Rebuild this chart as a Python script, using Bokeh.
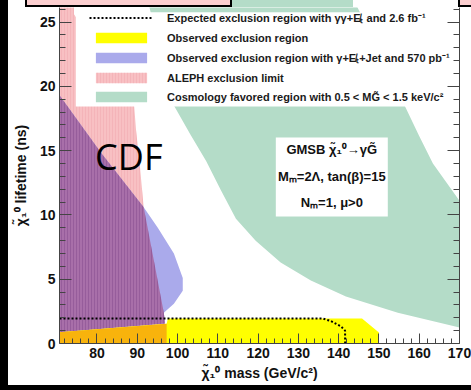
from bokeh.plotting import figure
from bokeh.models import (Range1d, LinearAxis, FixedTicker, Legend, LegendItem,
                          BoxAnnotation, Label, Div)
from bokeh.layouts import row, column
from bokeh.embed import file_html
from bokeh.resources import INLINE

# ---------------- data ----------------
X_RANGE = (70.7, 170.0)
Y_RANGE = (0.0, 26.13)
x_major_ticks = [80, 90, 100, 110, 120, 130, 140, 150, 160, 170]
x_minor_ticks = [72, 74, 76, 78, 82, 84, 86, 88, 92, 94, 96, 98, 102, 104, 106, 108,
                 112, 114, 116, 118, 122, 124, 126, 128, 132, 134, 136, 138, 142, 144,
                 146, 148, 152, 154, 156, 158, 162, 164, 166, 168]
y_major_ticks = [0, 5, 10, 15, 20, 25]
y_minor_ticks = [1, 2, 3, 4, 6, 7, 8, 9, 11, 12, 13, 14, 16, 17, 18, 19, 21, 22, 23, 24, 26]

# Cosmology favoured band (lower/left edge then upper/right edge)
cosmo_x = [92.6, 95.9, 99.1, 103.3, 107.1, 110.8, 114.5, 119.4, 125.6, 133.1, 141.8, 154.7,
           170.0, 170.0, 163.4, 159.9, 156.7, 150.5, 143.8]
cosmo_y = [26.7, 22.4, 18.5, 16.2, 14.2, 11.9, 9.7, 8.0, 6.3, 4.9, 3.65, 2.4,
           1.24, 11.1, 14.0, 16.2, 18.3, 22.4, 26.7]

# ALEPH exclusion limit
aleph_x = [70.7, 74.3, 74.3, 89.2, 89.7, 90.6, 91.6, 94.1, 96.6, 97.3, 70.7]
aleph_y = [26.7, 26.7, 25.6, 18.6, 16.6, 14.0, 10.6, 6.5, 2.4, 0.0, 0.0]

# gamma + MET + jet (570 pb-1) observed exclusion
jet_x = [70.7, 80.95, 91.6, 95.1, 99.1, 101.3, 101.3, 99.1, 96.6, 96.9, 70.7]
jet_y = [19.3, 14.85, 10.6, 9.0, 7.0, 5.1, 4.1, 3.1, 2.4, 1.55, 0.88]

# overlap of the jet exclusion and the ALEPH limit
overlap_x = [70.7, 80.95, 91.6, 94.1, 96.6, 96.9, 70.7]
overlap_y = [19.3, 14.85, 10.6, 6.5, 2.4, 1.55, 0.88]

# observed exclusion region (gamma gamma + MET, 2.6 fb-1)
observed_x = [70.7, 70.7, 97.3, 97.6, 145.8, 150.0, 150.0]
observed_y = [0.0, 0.88, 1.53, 1.95, 1.95, 0.86, 0.0]

# overlap of observed region and ALEPH limit
obs_overlap_x = [70.7, 70.7, 97.3, 97.3]
obs_overlap_y = [0.0, 0.88, 1.53, 0.0]

# expected exclusion contour
expected_x = [70.7, 136.0, 138.0, 140.5, 141.6, 141.6]
expected_y = [1.95, 1.95, 1.75, 1.35, 1.0, 0.0]

legend_labels = [
    "Expected exclusion region with \u03b3\u03b3+E\u0338\u209c and 2.6 fb\u207b\u00b9",
    "Observed exclusion region",
    "Observed exclusion region with \u03b3+E\u0338\u209c+Jet and 570 pb\u207b\u00b9",
    "ALEPH exclusion limit",
    "Cosmology favored region with 0.5 < MG\u0303 < 1.5 keV/c\u00b2",
]
info_lines = ["GMSB \u03c7\u0303\u2081\u2070\u2192\u03b3G\u0303",
              "M\u2098=2\u039b, tan(\u03b2)=15",
              "N\u2098=1, \u03bc>0"]

FONT = "Liberation Sans"

p = figure(width=463, height=378,
           x_range=Range1d(*X_RANGE), y_range=Range1d(*Y_RANGE),
           output_backend="svg", toolbar_location=None,
           min_border_left=51, min_border_right=12, min_border_top=0, min_border_bottom=42,
           background_fill_color="white", border_fill_color="white",
           outline_line_color=None, margin=0)
p.grid.visible = False

r_cosmo = p.patch(cosmo_x, cosmo_y, fill_color="#b4dcc8", line_color=None)
r_aleph = p.patch(aleph_x, aleph_y, fill_color="#f8c0c3", line_color=None,
                  hatch_pattern="vertical_line", hatch_color="#ee9fa6",
                  hatch_alpha=0.35, hatch_scale=3, hatch_weight=1)
r_jet = p.patch(jet_x, jet_y, fill_color="#aaaaeb", line_color=None)
p.patch(overlap_x, overlap_y, fill_color="#a86fa9", line_color=None,
        hatch_pattern="vertical_line", hatch_color="#80488a",
        hatch_alpha=0.45, hatch_scale=3, hatch_weight=1)
r_obs = p.patch(observed_x, observed_y, fill_color="#ffff00", line_color=None)
p.patch(obs_overlap_x, obs_overlap_y, fill_color="#f8b30c", line_color=None)
r_exp = p.line(expected_x, expected_y, line_color="black", line_width=2, line_dash="2 2")

# white box behind the legend
p.add_layout(BoxAnnotation(left=74.75, right=170.0, top=25.76, bottom=18.43,
                           fill_color="white", fill_alpha=1.0, line_alpha=0,
                           level="glyph"))
# white box behind the model text
p.add_layout(BoxAnnotation(left=124.4, right=152.2, top=16.02, bottom=9.88,
                           fill_color="white", fill_alpha=1.0, line_alpha=0,
                           level="glyph"))

legend = Legend(items=[LegendItem(label=legend_labels[0], renderers=[r_exp]),
                       LegendItem(label=legend_labels[1], renderers=[r_obs]),
                       LegendItem(label=legend_labels[2], renderers=[r_jet]),
                       LegendItem(label=legend_labels[3], renderers=[r_aleph]),
                       LegendItem(label=legend_labels[4], renderers=[r_cosmo])],
                location=(28, 238), padding=2, spacing=6, margin=0,
                glyph_width=64, glyph_height=13, label_height=13, label_width=10,
                label_standoff=14, label_text_font=FONT, label_text_font_style="bold",
                label_text_font_size="11px", label_text_color="#1a1a1a",
                background_fill_alpha=0, border_line_alpha=0)
p.add_layout(legend)

for yy, txt in zip([15.1, 12.95, 11.0], info_lines):
    p.add_layout(Label(x=138.3, y=yy, text=txt, text_align="center", text_baseline="middle",
                       text_font=FONT, text_font_style="bold", text_font_size="13px",
                       text_color="#111111"))

p.add_layout(Label(x=87.9, y=14.55, text="CDF", text_align="center", text_baseline="middle",
                   text_font="Open Sans", text_font_size="36px", text_color="black"))

def style_axis(ax, tick_in, minor_in):
    ax.axis_line_color = "#444444"
    ax.major_tick_line_color = "#444444"
    ax.minor_tick_line_color = "#444444"
    ax.major_tick_in = tick_in
    ax.major_tick_out = 0
    ax.minor_tick_in = minor_in
    ax.minor_tick_out = 0
    ax.major_label_text_font = FONT
    ax.major_label_text_font_style = "bold"
    ax.major_label_text_font_size = "14px"
    ax.major_label_text_color = "#111111"
    ax.axis_label_text_font = FONT
    ax.axis_label_text_font_style = "bold"
    ax.axis_label_text_font_size = "14px"
    ax.axis_label_text_color = "#111111"

xa = p.xaxis[0]
xa.ticker = FixedTicker(ticks=x_major_ticks, minor_ticks=x_minor_ticks)
style_axis(xa, 10, 5)
xa.major_label_standoff = 4
xa.axis_label = "\u03c7\u0303\u2081\u2070 mass (GeV/c\u00b2)"
xa.axis_label_standoff = 4

ya = p.yaxis[0]
ya.ticker = FixedTicker(ticks=y_major_ticks, minor_ticks=y_minor_ticks)
style_axis(ya, 12, 6)
ya.major_label_standoff = 4
ya.axis_label = "\u03c7\u0303\u2081\u2070 lifetime (ns)"
ya.axis_label_standoff = 8

ra = LinearAxis(ticker=FixedTicker(ticks=y_major_ticks, minor_ticks=y_minor_ticks))
style_axis(ra, 12, 6)
ra.major_label_text_font_size = "1px"
ra.major_label_text_color = None
ra.major_label_standoff = 0
p.add_layout(ra, "right")

# page furniture of the reference picture: black edges and the clipped pink boxes on top
BOX = "#fccfd0"
left_edge = Div(text="", width=8, height=385, margin=0, styles={"background-color": "black"})
bottom_edge = Div(text="", width=471, height=5, margin=0, styles={"background-color": "black"})
top_gap = Div(text="", width=17, height=7, margin=0, styles={"background-color": "white"})
top_box1 = Div(text="", width=207, height=7, margin=0,
               styles={"background-color": BOX, "border": "2px solid black",
                       "border-top": "none", "box-sizing": "border-box"})
top_mid = Div(text="", width=226, height=7, margin=0,
              styles={"background": "linear-gradient(to right, #b4dcc8 121px, white 121px)"})
top_box2 = Div(text="", width=13, height=7, margin=0,
               styles={"background-color": BOX, "border-left": "2px solid black",
                       "border-bottom": "2px solid black", "box-sizing": "border-box"})

layout = column(row(left_edge,
                    column(row(top_gap, top_box1, top_mid, top_box2, spacing=0), p, spacing=0),
                    spacing=0),
                bottom_edge, spacing=0)

open("out.html", "w").write(file_html(layout, INLINE))
